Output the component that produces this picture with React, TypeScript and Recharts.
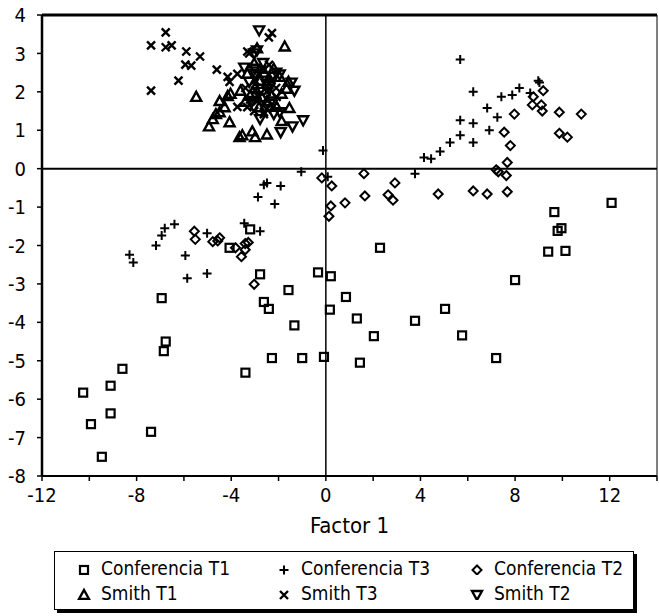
import React from "react"
import {
  ScatterChart,
  Scatter,
  XAxis,
  YAxis,
  ReferenceLine,
} from "recharts"

const FONT = "'Liberation Sans Narrow', 'DejaVu Sans Condensed', Arial, sans-serif"

const xTicks = [-12, -10, -8, -6, -4, -2, 0, 2, 4, 6, 8, 10, 12, 14]
const yTicks = [-8, -7, -6, -5, -4, -3, -2, -1, 0, 1, 2, 3, 4]

const conferenciaT1 = [
  { x: -6.94, y: -3.37 }, { x: -6.77, y: -4.5 }, { x: -6.85, y: -4.75 },
  { x: -8.6, y: -5.21 }, { x: -10.26, y: -5.83 }, { x: -9.1, y: -5.65 },
  { x: -9.1, y: -6.37 }, { x: -9.93, y: -6.65 }, { x: -9.47, y: -7.5 },
  { x: -7.39, y: -6.85 }, { x: -3.4, y: -5.31 }, { x: -2.78, y: -2.75 },
  { x: -2.62, y: -3.47 }, { x: -2.41, y: -3.65 }, { x: -2.28, y: -4.93 },
  { x: -1.58, y: -3.16 }, { x: -1.33, y: -4.08 }, { x: -1.0, y: -4.93 },
  { x: -0.33, y: -2.7 }, { x: -0.08, y: -4.9 }, { x: -4.07, y: -2.06 },
  { x: -3.2, y: -1.58 }, { x: 2.29, y: -2.06 }, { x: 0.21, y: -2.8 },
  { x: 0.85, y: -3.34 }, { x: 0.17, y: -3.67 }, { x: 1.31, y: -3.9 },
  { x: 2.03, y: -4.36 }, { x: 1.44, y: -5.05 }, { x: 3.77, y: -3.96 },
  { x: 5.04, y: -3.65 }, { x: 5.76, y: -4.34 }, { x: 7.2, y: -4.93 },
  { x: 8.0, y: -2.9 }, { x: 9.4, y: -2.16 }, { x: 10.13, y: -2.14 },
  { x: 12.08, y: -0.89 }, { x: 9.66, y: -1.13 }, { x: 9.96, y: -1.55 },
  { x: 9.8, y: -1.62 },
]

const conferenciaT3 = [
  { x: -0.12, y: 0.47 }, { x: -1.04, y: -0.08 }, { x: -2.62, y: -0.42 },
  { x: -2.49, y: -0.37 }, { x: -1.91, y: -0.45 }, { x: -2.87, y: -0.74 },
  { x: -2.16, y: -0.92 }, { x: -2.78, y: -1.63 }, { x: -3.45, y: -1.42 },
  { x: -5.02, y: -1.68 }, { x: -6.4, y: -1.45 }, { x: -6.81, y: -1.55 },
  { x: -6.94, y: -1.74 }, { x: -7.18, y: -2.0 }, { x: -8.3, y: -2.24 },
  { x: -8.14, y: -2.44 }, { x: -5.94, y: -2.26 }, { x: -5.86, y: -2.85 },
  { x: -5.02, y: -2.73 }, { x: 5.68, y: 2.84 }, { x: 6.23, y: 2.0 },
  { x: 5.68, y: 1.26 }, { x: 6.23, y: 1.18 }, { x: 5.68, y: 0.87 },
  { x: 6.23, y: 0.68 }, { x: 6.82, y: 1.58 }, { x: 7.25, y: 1.34 },
  { x: 6.91, y: 1.0 }, { x: 7.42, y: 1.87 }, { x: 7.88, y: 1.92 },
  { x: 8.18, y: 2.1 }, { x: 8.64, y: 1.97 }, { x: 8.98, y: 2.29 },
  { x: 9.03, y: 2.24 }, { x: 5.25, y: 0.68 }, { x: 4.83, y: 0.45 },
  { x: 4.15, y: 0.29 }, { x: 4.45, y: 0.26 }, { x: 3.77, y: -0.13 },
  { x: 0.08, y: -0.21 },
]

const conferenciaT2 = [
  { x: 9.19, y: 2.03 }, { x: 8.77, y: 1.87 }, { x: 8.73, y: 1.66 },
  { x: 9.11, y: 1.66 }, { x: 9.15, y: 1.5 }, { x: 9.87, y: 1.47 },
  { x: 10.8, y: 1.42 }, { x: 7.97, y: 1.42 }, { x: 9.87, y: 0.92 },
  { x: 10.21, y: 0.82 }, { x: 7.54, y: 0.95 }, { x: 7.8, y: 0.6 },
  { x: 7.67, y: 0.16 }, { x: 7.2, y: -0.03 }, { x: 7.29, y: -0.08 },
  { x: 7.63, y: -0.18 }, { x: 7.67, y: -0.6 }, { x: 6.82, y: -0.66 },
  { x: 6.23, y: -0.58 }, { x: 4.75, y: -0.66 }, { x: 2.92, y: -0.37 },
  { x: 2.63, y: -0.68 }, { x: 2.84, y: -0.82 }, { x: 1.65, y: -0.71 },
  { x: 1.61, y: -0.13 }, { x: 0.81, y: -0.89 }, { x: 0.25, y: -0.45 },
  { x: 0.21, y: -0.97 }, { x: 0.13, y: -1.24 }, { x: -0.17, y: -0.24 },
  { x: -5.56, y: -1.63 }, { x: -4.78, y: -1.9 }, { x: -4.49, y: -1.8 },
  { x: -3.41, y: -1.95 }, { x: -3.28, y: -1.92 }, { x: -3.57, y: -2.29 },
  { x: -3.41, y: -2.11 }, { x: -3.03, y: -3.01 }, { x: -5.52, y: -1.84 },
  { x: -4.57, y: -1.88 }, { x: -3.82, y: -2.06 },
]

const smithT1 = [
  { x: -5.48, y: 1.87 }, { x: -4.94, y: 1.1 }, { x: -4.78, y: 1.29 },
  { x: -4.49, y: 1.47 }, { x: -4.49, y: 1.76 }, { x: -4.07, y: 1.21 },
  { x: -4.03, y: 1.95 }, { x: -1.74, y: 3.18 }, { x: -3.65, y: 0.82 },
  { x: -3.53, y: 0.87 }, { x: -3.11, y: 0.97 }, { x: -2.99, y: 0.82 },
  { x: -2.49, y: 0.89 }, { x: -1.87, y: 1.24 }, { x: -1.54, y: 1.58 },
  { x: -1.95, y: 2.39 }, { x: -2.08, y: 1.61 }, { x: -1.87, y: 1.95 },
  { x: -4.15, y: 1.89 }, { x: -2.91, y: 3.13 }, { x: -4.65, y: 1.42 },
  { x: -4.28, y: 1.6 }, { x: -3.2, y: 1.9 }, { x: -2.49, y: 2.21 },
  { x: -3.32, y: 2.47 }, { x: -1.66, y: 2.08 }, { x: -1.58, y: 2.26 },
  { x: -3.03, y: 2.74 }, { x: -2.78, y: 2.29 }, { x: -3.61, y: 2.03 },
  { x: -2.49, y: 1.76 }, { x: -2.82, y: 1.6 }, { x: -3.41, y: 1.74 },
  { x: -2.6, y: 2.5 }, { x: -2.3, y: 1.9 }, { x: -3.0, y: 2.1 },
  { x: -2.7, y: 1.85 }, { x: -2.4, y: 2.35 }, { x: -2.2, y: 2.6 },
]

const smithT3 = [
  { x: -6.77, y: 3.55 }, { x: -7.39, y: 3.21 }, { x: -6.77, y: 3.16 },
  { x: -6.52, y: 3.21 }, { x: -5.9, y: 3.05 }, { x: -5.94, y: 2.71 },
  { x: -5.69, y: 2.68 }, { x: -5.32, y: 2.92 }, { x: -6.23, y: 2.29 },
  { x: -7.39, y: 2.03 }, { x: -4.61, y: 2.58 }, { x: -2.28, y: 3.53 },
  { x: -2.41, y: 3.42 }, { x: -4.15, y: 2.39 }, { x: -4.07, y: 2.26 },
  { x: -3.74, y: 1.61 }, { x: -3.03, y: 1.5 }, { x: -2.62, y: 1.47 },
  { x: -3.24, y: 3.0 }, { x: -3.32, y: 3.05 }, { x: -3.74, y: 2.47 },
  { x: -2.99, y: 2.03 }, { x: -2.62, y: 1.42 }, { x: -2.2, y: 1.63 },
  { x: -3.32, y: 1.6 }, { x: -2.9, y: 1.76 }, { x: -2.08, y: 1.87 },
  { x: -3.0, y: 2.3 }, { x: -2.7, y: 2.6 }, { x: -2.5, y: 2.0 },
  { x: -2.3, y: 2.3 }, { x: -2.9, y: 1.9 }, { x: -2.6, y: 1.7 },
  { x: -3.4, y: 2.1 }, { x: -2.4, y: 2.7 }, { x: -2.1, y: 2.1 },
  { x: -2.8, y: 2.45 }, { x: -3.2, y: 1.8 }, { x: -2.5, y: 1.55 },
]

const smithT2 = [
  { x: -2.82, y: 3.6 }, { x: -2.91, y: 3.08 }, { x: -3.03, y: 3.0 },
  { x: -1.45, y: 2.24 }, { x: -0.96, y: 1.26 }, { x: -1.41, y: 1.1 },
  { x: -1.91, y: 0.95 }, { x: -3.45, y: 2.63 }, { x: -1.95, y: 2.45 },
  { x: -2.99, y: 2.47 }, { x: -3.24, y: 2.26 }, { x: -2.62, y: 2.39 },
  { x: -2.41, y: 2.08 }, { x: -3.11, y: 1.76 }, { x: -2.2, y: 1.42 },
  { x: -2.78, y: 1.29 }, { x: -1.95, y: 1.47 }, { x: -1.33, y: 2.03 },
  { x: -2.5, y: 2.2 }, { x: -2.8, y: 2.0 }, { x: -2.3, y: 1.75 },
  { x: -2.65, y: 2.75 }, { x: -3.0, y: 2.6 }, { x: -2.1, y: 2.5 },
]

type P = { cx?: number; cy?: number }

const SquareMark = ({ cx = 0, cy = 0 }: P) => (
  <rect x={cx - 4} y={cy - 4} width={8} height={8} fill="none" stroke="#000" strokeWidth={2.2} />
)
const PlusMark = ({ cx = 0, cy = 0 }: P) => (
  <path d={`M${cx - 4.5},${cy}H${cx + 4.5}M${cx},${cy - 4.5}V${cy + 4.5}`} stroke="#000" strokeWidth={2} />
)
const DiamondMark = ({ cx = 0, cy = 0 }: P) => (
  <path d={`M${cx},${cy - 4.5}L${cx + 4.5},${cy}L${cx},${cy + 4.5}L${cx - 4.5},${cy}Z`} fill="none" stroke="#000" strokeWidth={2} />
)
const TriUpMark = ({ cx = 0, cy = 0 }: P) => (
  <path d={`M${cx},${cy - 5}L${cx + 5},${cy + 4}L${cx - 5},${cy + 4}Z`} fill="none" stroke="#000" strokeWidth={2.4} />
)
const CrossMark = ({ cx = 0, cy = 0 }: P) => (
  <path d={`M${cx - 4},${cy - 4}L${cx + 4},${cy + 4}M${cx + 4},${cy - 4}L${cx - 4},${cy + 4}`} stroke="#000" strokeWidth={2.4} />
)
const TriDownMark = ({ cx = 0, cy = 0 }: P) => (
  <path d={`M${cx - 5},${cy - 4}L${cx + 5},${cy - 4}L${cx},${cy + 5}Z`} fill="none" stroke="#000" strokeWidth={2.4} />
)

const legendRows = [
  [
    { name: "Conferencia T1", Mark: SquareMark },
    { name: "Conferencia T3", Mark: PlusMark },
    { name: "Conferencia T2", Mark: DiamondMark },
  ],
  [
    { name: "Smith T1", Mark: TriUpMark },
    { name: "Smith T3", Mark: CrossMark },
    { name: "Smith T2", Mark: TriDownMark },
  ],
]
const colLeft = [22, 222, 415]

function BoxLegend() {
  return (
    <div
      style={{
        position: "absolute",
        left: 54,
        top: 551,
        width: 578,
        height: 57,
        border: "1.5px solid #000",
        boxShadow: "3px 3px 0 #000",
        background: "#fff",
        fontFamily: FONT,
        fontSize: 19,
        color: "#000",
      }}
    >
      {legendRows.map((row, r) =>
        row.map((item, c) => (
          <div
            key={item.name}
            style={{
              position: "absolute",
              left: colLeft[c],
              top: 5 + r * 25,
              display: "flex",
              alignItems: "center",
              height: 22,
              whiteSpace: "nowrap",
            }}
          >
            <svg width={14} height={14} style={{ marginRight: 10 }}>
              <item.Mark cx={7} cy={9} />
            </svg>
            {item.name}
          </div>
        ))
      )}
    </div>
  )
}

const tickStyle = { fill: "#000", fontSize: 20, fontFamily: FONT }

export default function App() {
  return (
    <div style={{ position: "absolute", left: 0, top: 0, width: 659, height: 616, background: "#fff" }}>
      <ScatterChart width={659} height={616} margin={{ top: 15, right: 2, bottom: 83, left: 0 }}>
        <XAxis
          type="number"
          dataKey="x"
          domain={[-12, 14]}
          ticks={xTicks}
          interval={0}
          allowDataOverflow
          tickFormatter={(v: number) => (v % 4 === 0 ? String(v) : "")}
          tick={tickStyle}
          tickSize={5}
          tickMargin={7}
          axisLine={{ stroke: "#000", strokeWidth: 2 }}
          tickLine={{ stroke: "#000", strokeWidth: 1.5 }}
          height={57}
          label={{ value: "Factor 1", position: "insideBottom", offset: 0, fill: "#000", fontSize: 22, fontFamily: FONT }}
        />
        <YAxis
          type="number"
          dataKey="y"
          domain={[-8, 4]}
          ticks={yTicks}
          interval={0}
          allowDataOverflow
          tick={tickStyle}
          tickSize={5}
          tickMargin={11}
          width={42}
          axisLine={{ stroke: "#000", strokeWidth: 2.5 }}
          tickLine={{ stroke: "#000", strokeWidth: 1.5 }}
        />
        <ReferenceLine y={4} stroke="#000" strokeWidth={3} />
        <ReferenceLine x={14} stroke="#000" strokeWidth={1} />
        <ReferenceLine y={0} stroke="#000" strokeWidth={2} />
        <ReferenceLine x={0} stroke="#000" strokeWidth={1.5} />
        <Scatter name="Conferencia T1" data={conferenciaT1} shape={SquareMark} isAnimationActive={false} />
        <Scatter name="Conferencia T3" data={conferenciaT3} shape={PlusMark} isAnimationActive={false} />
        <Scatter name="Conferencia T2" data={conferenciaT2} shape={DiamondMark} isAnimationActive={false} />
        <Scatter name="Smith T1" data={smithT1} shape={TriUpMark} isAnimationActive={false} />
        <Scatter name="Smith T3" data={smithT3} shape={CrossMark} isAnimationActive={false} />
        <Scatter name="Smith T2" data={smithT2} shape={TriDownMark} isAnimationActive={false} />
      </ScatterChart>
      <BoxLegend />
    </div>
  )
}
